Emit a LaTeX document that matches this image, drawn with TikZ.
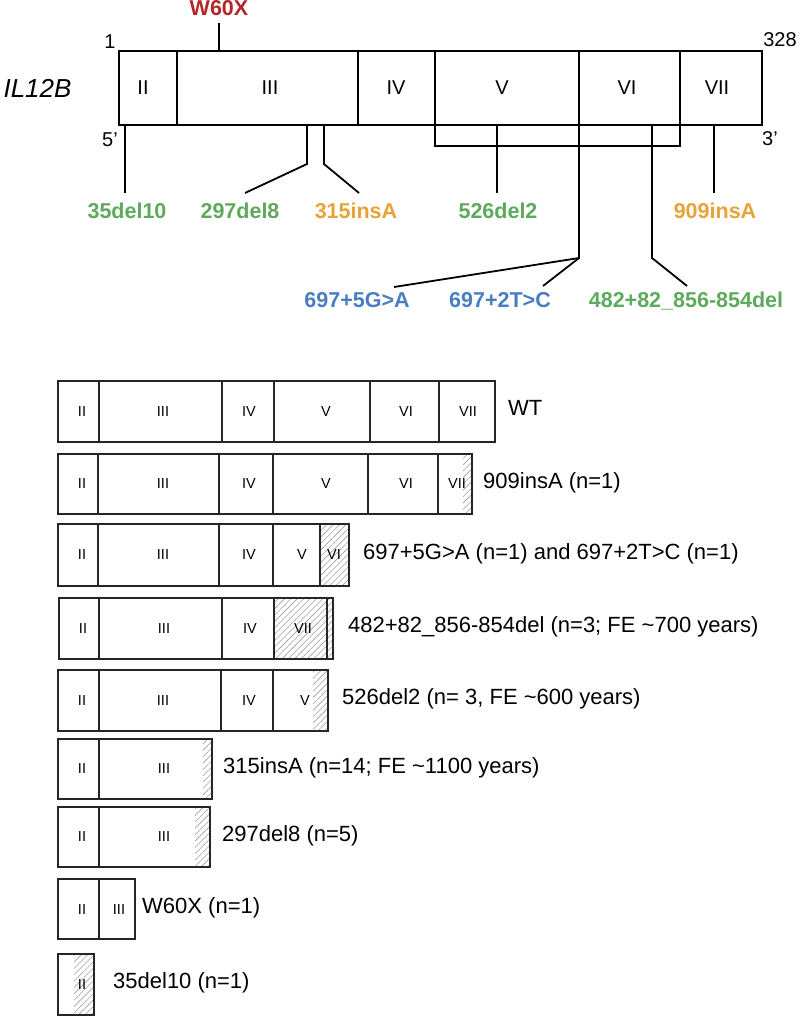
\documentclass[tikz,border=0pt]{standalone}
\usepackage{fontspec}
\setmainfont{Liberation Sans}
\usetikzlibrary{patterns.meta}
\definecolor{mutgreen}{RGB}{94,170,92}
\definecolor{mutorange}{RGB}{232,163,56}
\definecolor{mutblue}{RGB}{72,126,192}
\definecolor{mutred}{RGB}{178,40,40}

\begin{document}
\begin{tikzpicture}[x=1pt,y=-1pt,
  geneline/.style={line width=1.8pt},
  exonbox/.style={line width=1.2pt,black!85},
  exon/.style={font=\fontsize{20}{24}\selectfont,inner sep=0pt},
  tag/.style={font=\fontsize{20}{24}\selectfont,inner sep=0pt},
  mut/.style={font=\fontsize{21.5}{24}\selectfont\bfseries,anchor=base,inner sep=0pt},
  cell/.style={font=\fontsize{14.5}{16}\selectfont,inner sep=0pt},
  row/.style={font=\fontsize{22}{26}\selectfont,anchor=base west,inner sep=0pt},
  hatch/.style={pattern={Lines[angle=45,distance=4.5pt,line width=0.6pt]},pattern color=gray!75}]

  \useasboundingbox (0,0) rectangle (800,1017);

	%gene
 \draw[geneline] (119,51) rectangle (762,125);
    \foreach \x in {177,358,435,579,680}{
         \draw[geneline] (\x,51) -- (\x,125);
    }
    \foreach \x/\t in {143/II,270/III,396/IV,502/V,627/VI,717/VII}{
         \node[exon] (g\t) at (\x,88) {\t};
    }
 \node[font=\fontsize{26}{30}\selectfont\itshape,inner sep=0pt] (gname) at (37.5,88) {IL12B};
 \node[tag] (n1) at (110,41.5) {1};
 \node[tag] (n328) at (780,40) {328};
 \node[tag] (n5) at (110,140) {5’};
 \node[tag] (n3) at (770,139) {3’};

	%mutations
 \node[mut,text=mutred] (w60x) at (219,16) {W60X};
 \coordinate (tw) at (219,23);
 \coordinate (bw) at (219,51);
 \draw[geneline] (tw) -- (bw);

    \foreach \n/\x/\lx/\c in {35del10/125/127/mutgreen,526del2/497/498/mutgreen,909insA/714/715/mutorange}{
         \coordinate (a\n) at (\x,125);
         \coordinate (e\n) at (\x,193);
         \draw[geneline] (a\n) -- (e\n);
         \node[mut,text=\c] (l\n) at (\lx,218) {\n};
    }

 \coordinate (a297) at (307,125);
 \coordinate (k297) at (307,164);
 \coordinate (e297) at (245,193);
 \draw[geneline] (a297) -- (k297) -- (e297);
 \node[mut,text=mutgreen] (l297) at (240,218) {297del8};

 \coordinate (a315) at (324,125);
 \coordinate (k315) at (324,164);
 \coordinate (e315) at (359,193);
 \draw[geneline] (a315) -- (k315) -- (e315);
 \node[mut,text=mutorange] (l315) at (356,218) {315insA};

 %bracket under V and VI
 \coordinate (bx1) at (435,125);
 \coordinate (bx2) at (435,146);
 \coordinate (bx3) at (680,146);
 \coordinate (bx4) at (680,125);
 \draw[geneline] (bx1) -- (bx2) -- (bx3) -- (bx4);

 \coordinate (a697) at (579,125);
 \coordinate (k697) at (579,258);
 \coordinate (e697a) at (394,287);
 \coordinate (e697b) at (543,286);
 \draw[geneline] (a697) -- (k697) -- (e697a);
 \draw[geneline] (k697) -- (e697b);
 \node[mut,text=mutblue] (l697a) at (357,307) {697+5G>A};
 \node[mut,text=mutblue] (l697b) at (500,307) {697+2T>C};

 \coordinate (a482) at (652,125);
 \coordinate (k482) at (652,258);
 \coordinate (e482) at (687,286);
 \draw[geneline] (a482) -- (k482) -- (e482);
 \node[mut,text=mutgreen] (l482) at (686,307) {482+82\_856-854del};

	%proteins
 %WT
 \def\yt{381} \def\yb{442}
    \foreach \a/\b/\lx/\t in {58/99/82/II,99/222/163/III,222/274/249/IV,274/370/326/V,370/439/406/VI,439/495/468/VII}{
         \draw[exonbox] (\a,\yt) rectangle (\b,\yb);
         \node[cell] (wt\t) at (\lx,{(\yt+\yb)/2}) {\t};
    }
 \node[row] (wt) at (508,{(\yt+\yb)/2+4}) {WT};

 %909insA
 \def\yt{454} \def\yb{514}
 \fill[hatch] (463,\yt) rectangle (472,\yb);
    \foreach \a/\b/\lx/\t in {58/98/82/II,98/219/163/III,219/273/249/IV,273/368/326/V,368/438/406/VI,438/472/457/VII}{
         \draw[exonbox] (\a,\yt) rectangle (\b,\yb);
         \node[cell] (ra\t) at (\lx,{(\yt+\yb)/2}) {\t};
    }
 \node[row] (ra) at (483,{(\yt+\yb)/2+4}) {909insA (n=1)};

 %697
 \def\yt{524} \def\yb{586}
 \fill[hatch] (320,\yt) rectangle (349,\yb);
    \foreach \a/\b/\lx/\t in {58/98/82/II,98/219/163/III,219/273/249/IV,273/320/302/V,320/349/334/VI}{
         \draw[exonbox] (\a,\yt) rectangle (\b,\yb);
         \node[cell] (rb\t) at (\lx,{(\yt+\yb)/2}) {\t};
    }
 \node[row] (rb) at (363,{(\yt+\yb)/2+4}) {697+5G>A (n=1) and 697+2T>C (n=1)};

 %482
 \def\yt{598} \def\yb{659}
 \fill[hatch] (274,\yt) rectangle (333,\yb);
    \foreach \a/\b/\lx/\t in {59/99/83/II,99/222/164/III,222/274/250/IV,274/327/303/VII}{
         \draw[exonbox] (\a,\yt) rectangle (\b,\yb);
         \node[cell] (rc\t) at (\lx,{(\yt+\yb)/2}) {\t};
    }
 \draw[exonbox] (327,\yt) rectangle (333,\yb);
 \node[row] (rc) at (348,{(\yt+\yb)/2+4}) {482+82\_856-854del (n=3; FE \textasciitilde700 years)};

 %526del2
 \def\yt{670} \def\yb{731}
 \fill[hatch] (313,\yt) rectangle (328,\yb);
    \foreach \a/\b/\lx/\t in {58/99/82/II,99/221/163/III,221/273/249/IV,273/328/305/V}{
         \draw[exonbox] (\a,\yt) rectangle (\b,\yb);
         \node[cell] (rd\t) at (\lx,{(\yt+\yb)/2}) {\t};
    }
 \node[row] (rd) at (342,{(\yt+\yb)/2+4}) {526del2 (n= 3, FE \textasciitilde600 years)};

 %315insA
 \def\yt{739} \def\yb{799}
 \fill[hatch] (203,\yt) rectangle (212,\yb);
    \foreach \a/\b/\lx/\t in {58/99/82/II,99/212/164/III}{
         \draw[exonbox] (\a,\yt) rectangle (\b,\yb);
         \node[cell] (re\t) at (\lx,{(\yt+\yb)/2}) {\t};
    }
 \node[row] (re) at (223,{(\yt+\yb)/2+4}) {315insA (n=14; FE \textasciitilde1100 years)};

 %297del8
 \def\yt{807} \def\yb{867}
 \fill[hatch] (195,\yt) rectangle (210,\yb);
    \foreach \a/\b/\lx/\t in {58/99/82/II,99/210/164/III}{
         \draw[exonbox] (\a,\yt) rectangle (\b,\yb);
         \node[cell] (rf\t) at (\lx,{(\yt+\yb)/2}) {\t};
    }
 \node[row] (rf) at (222,{(\yt+\yb)/2+4}) {297del8 (n=5)};

 %W60X
 \def\yt{879} \def\yb{939}
    \foreach \a/\b/\lx/\t in {58/99/82/II,99/135/119/III}{
         \draw[exonbox] (\a,\yt) rectangle (\b,\yb);
         \node[cell] (rg\t) at (\lx,{(\yt+\yb)/2}) {\t};
    }
 \node[row] (rg) at (142,{(\yt+\yb)/2+4}) {W60X (n=1)};

 %35del10
 \def\yt{954} \def\yb{1015}
 \fill[hatch] (74,\yt) rectangle (94,\yb);
    \foreach \a/\b/\lx/\t in {58/94/82/II}{
         \draw[exonbox] (\a,\yt) rectangle (\b,\yb);
         \node[cell] (rh\t) at (\lx,{(\yt+\yb)/2}) {\t};
    }
 \node[row] (rh) at (113,{(\yt+\yb)/2+4}) {35del10 (n=1)};

\end{tikzpicture}
\end{document}
